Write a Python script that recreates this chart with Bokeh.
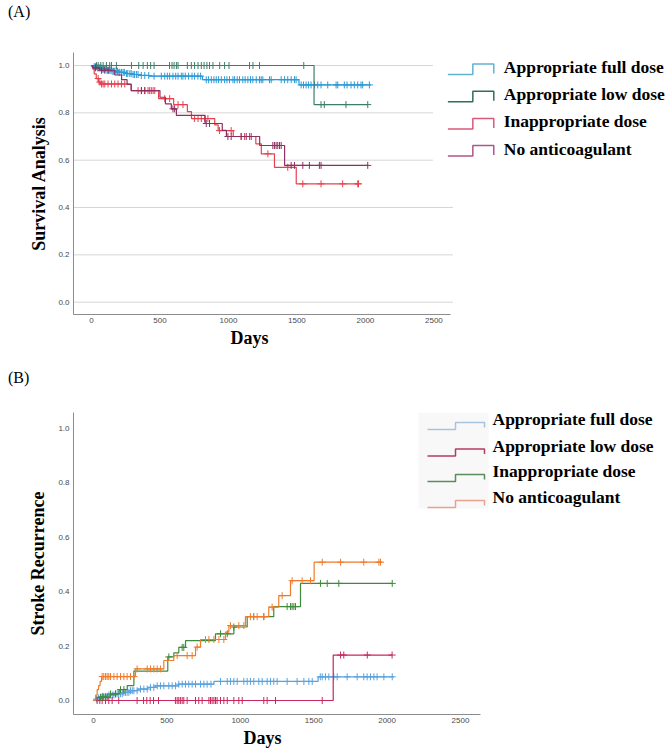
import numpy as np
from bokeh.plotting import figure
from bokeh.models import Range1d, FixedTicker, PrintfTickFormatter, Title, Div
from bokeh.layouts import column
from bokeh.core.properties import value
from bokeh.embed import file_html
from bokeh.resources import INLINE

# ---------------- data ----------------
SERIES_NAMES = ["Appropriate full dose", "Appropriate low dose", "Inappropriate dose", "No anticoagulant"]
X_TICKS = [0, 500, 1000, 1500, 2000, 2500]
Y_TICKS = [0.0, 0.2, 0.4, 0.6, 0.8, 1.0]

# Panel A : survival (step times in days, survival values)
A_full_t = [0, 15, 40, 75, 110, 150, 200, 250, 300, 360, 420, 810, 1515, 2040]
A_full_s = [1.0, 0.995, 0.99, 0.985, 0.98, 0.976, 0.971, 0.966, 0.962, 0.958, 0.955, 0.94, 0.918, 0.918]
A_full_c = [20, 28, 36, 45, 53, 60, 68, 78, 85, 90, 97, 105, 114, 125, 134, 142, 151, 160, 170, 180, 190,
            200, 207, 220, 231, 240, 255, 265, 280, 290, 304, 315, 328, 340, 364, 389, 418, 457, 510, 535,
            554, 571, 595, 615, 632, 656, 668, 685, 709, 734, 753, 777, 797, 838, 855, 875, 894, 911, 928,
            948, 972, 989, 1008, 1033, 1045, 1064, 1081, 1105, 1122, 1142, 1161, 1178, 1203, 1227, 1239,
            1251, 1300, 1312, 1385, 1409, 1433, 1458, 1482, 1494, 1531, 1548, 1567, 1584, 1603, 1628, 1652,
            1676, 1725, 1786, 1798, 1846, 1866, 1895, 1919, 1944, 1968, 1980, 2029]

A_low_t = [0, 1625, 2017]
A_low_s = [1.0, 0.835, 0.835]
A_low_c = [36, 49, 68, 85, 109, 133, 146, 182, 292, 345, 377, 408, 432, 457, 570, 588, 603, 620, 632, 700,
           729, 753, 778, 802, 822, 843, 862, 887, 936, 972, 1004, 1154, 1179, 1227, 1550, 1676, 1700,
           1858, 2017]

A_inap_t = [0, 10, 20, 35, 50, 65, 290, 490, 600, 700, 730, 900, 925, 1035, 1200, 1240, 1336, 1495, 1950]
A_inap_s = [1.0, 0.985, 0.965, 0.945, 0.93, 0.922, 0.894, 0.86, 0.835, 0.805, 0.776, 0.749, 0.725, 0.70,
            0.669, 0.627, 0.57, 0.50, 0.50]
A_inap_c = [49, 61, 73, 85, 97, 121, 146, 170, 194, 219, 243, 340, 364, 388, 413, 425, 437, 450, 462, 535,
            571, 632, 668, 753, 778, 802, 826, 850, 935, 1020, 1093, 1118, 1154, 1288, 1433, 1543, 1676,
            1834, 1944, 1950]

A_none_t = [0, 10, 60, 170, 220, 260, 290, 500, 540, 583, 620, 830, 955, 985, 1228, 1410, 2017]
A_none_s = [1.0, 0.99, 0.98, 0.96, 0.94, 0.92, 0.894, 0.866, 0.838, 0.817, 0.789, 0.755, 0.726, 0.70,
            0.662, 0.578, 0.578]
A_none_c = [30, 73, 97, 121, 365, 390, 595, 607, 838, 862, 996, 1020, 1093, 1130, 1166, 1324, 1336, 1348,
            1360, 1373, 1385, 1458, 1482, 1543, 1591, 1664, 1676, 2017]

# Panel B : stroke recurrence (cumulative)
B_full_t = [0, 10, 30, 60, 100, 150, 200, 250, 300, 370, 420, 580, 820, 1530, 2046]
B_full_v = [0, 0.005, 0.01, 0.015, 0.02, 0.025, 0.03, 0.036, 0.042, 0.048, 0.054, 0.06, 0.07, 0.087, 0.087]
B_full_c = [20, 35, 48, 60, 70, 82, 93, 105, 116, 128, 139, 150, 161, 172, 184, 196, 207, 218, 229, 241,
            252, 264, 275, 297, 320, 343, 366, 388, 411, 434, 456, 479, 513, 536, 559, 581, 604, 627, 649,
            672, 695, 729, 752, 774, 800, 865, 911, 933, 956, 979, 1024, 1047, 1069, 1092, 1126, 1149, 1183,
            1206, 1228, 1251, 1319, 1387, 1433, 1467, 1490, 1545, 1558, 1580, 1603, 1637, 1660, 1728, 1796,
            1841, 1864, 1887, 1910, 1932, 1978, 2035]

B_low_t = [0, 1633, 2034]
B_low_v = [0, 0.167, 0.167]
B_low_c = [25, 43, 59, 82, 104, 127, 172, 297, 341, 363, 386, 409, 443, 558, 570, 581, 592, 604, 615, 638,
           695, 717, 740, 786, 797, 808, 820, 831, 842, 865, 888, 911, 956, 990, 1013, 1160, 1183, 1240,
           1558, 1683, 1705, 1865, 2034]

B_inap_t = [0, 15, 115, 175, 230, 275, 506, 547, 581, 627, 831, 956, 1047, 1228, 1410, 2035]
B_inap_v = [0, 0.012, 0.024, 0.04, 0.055, 0.108, 0.16, 0.175, 0.195, 0.22, 0.245, 0.27, 0.308, 0.345,
            0.43, 0.43]
B_inap_c = [48, 59, 70, 82, 93, 116, 150, 184, 207, 513, 604, 615, 865, 911, 956, 1092, 1160, 1319, 1342,
            1353, 1365, 1376, 1546, 1592, 1671, 2035]

B_none_t = [0, 15, 25, 35, 45, 55, 286, 479, 547, 695, 729, 899, 922, 1035, 1194, 1262, 1342, 1503, 1966]
B_none_v = [0, 0.02, 0.04, 0.055, 0.07, 0.088, 0.116, 0.147, 0.165, 0.196, 0.224, 0.251, 0.275, 0.308,
            0.343, 0.385, 0.44, 0.508, 0.508]
B_none_c = [59, 70, 82, 93, 104, 116, 139, 161, 184, 207, 229, 252, 275, 297, 366, 388, 411, 434, 456, 570,
            638, 672, 706, 763, 786, 820, 854, 888, 933, 990, 1024, 1069, 1115, 1160, 1217, 1285, 1353,
            1421, 1478, 1558, 1683, 1841, 1944, 1955]

# ---------------- styles ----------------
A_COLORS = ["#2c9ad6", "#3b7f68", "#e5414f", "#8f2f62"]
A_LEG_COLORS = ["#5fb3cf", "#2e6f5c", "#d9597a", "#b0558c"]
B_COLORS = ["#5aa2de", "#c8285c", "#3e8b3a", "#f07b2b"]
B_LEG_COLORS = ["#a9c3da", "#b23c60", "#5c8c5c", "#e9a190"]
SERIF = "Liberation Serif"
SANS = "Liberation Sans"


def step_at(t, v, x):
    t = np.asarray(t, dtype=float)
    v = np.asarray(v, dtype=float)
    idx = np.searchsorted(t, np.asarray(x, dtype=float), side="right") - 1
    return v[np.clip(idx, 0, len(v) - 1)]


def style_axes(p, ylabel, axis_end, days_offset, ylab_standoff):
    p.xaxis.ticker = FixedTicker(ticks=X_TICKS)
    p.yaxis.ticker = FixedTicker(ticks=Y_TICKS)
    p.yaxis.formatter = PrintfTickFormatter(format="%.1f")
    p.xaxis.bounds = (p.x_range.start, axis_end)
    for ax in (p.xaxis[0], p.yaxis[0]):
        ax.axis_line_color = "#8c8c8c"
        ax.axis_line_width = 1
        ax.major_tick_line_color = None
        ax.minor_tick_line_color = None
        ax.major_tick_out = 0
        ax.major_tick_in = 0
        ax.minor_tick_out = 0
        ax.minor_tick_in = 0
        ax.major_label_text_font = SANS
        ax.major_label_text_font_size = "8px"
        ax.major_label_text_color = "#4a4a4a"
        ax.axis_label_text_font = SERIF
        ax.axis_label_text_font_style = "bold"
        ax.axis_label_text_font_size = "18px"
        ax.axis_label_text_color = "black"
    p.xaxis.major_label_standoff = 3
    p.yaxis.axis_label = ylabel
    p.yaxis.major_label_standoff = 4
    p.yaxis.axis_label_standoff = ylab_standoff
    p.xgrid.visible = False
    p.ygrid.visible = False
    p.outline_line_color = None
    # x axis title (placed like the reference, not centred on the whole frame)
    p.add_layout(Title(text="Days", align="left", offset=days_offset, standoff=0,
                       text_font=SERIF, text_font_style="bold", text_font_size="18px",
                       text_color="black"), "below")


def draw_series(p, ts, vs, cs, colors):
    for t, v, c, col in zip(ts, vs, cs, colors):
        p.step(x=t, y=v, mode="after", line_color=col, line_width=1.2)
        p.scatter(x=c, y=step_at(t, v, c), marker="cross", size=7, line_color=col, line_width=1)


def draw_legend(p, x_sym, sym_y, x_text, centers, text_dy, colors):
    for cy, col in zip(centers, colors):
        xs = [x_sym[0], x_sym[1], x_sym[1], x_sym[2], x_sym[2]]
        ys = [cy + sym_y[0], cy + sym_y[0], cy + sym_y[1], cy + sym_y[1], cy + sym_y[2]]
        p.line(x=xs, y=ys, line_color=col, line_width=1.5, x_range_name="px", y_range_name="px")
    p.text(x=[x_text] * len(SERIES_NAMES), y=[c + text_dy for c in centers], text=SERIES_NAMES,
           x_range_name="px", y_range_name="px",
           text_font=value(SERIF), text_font_style="bold", text_font_size="17.5px",
           text_baseline="middle", text_color="black")


def panel_label(text):
    return Div(text=text, width=669, height=24,
               styles={"font-family": SERIF, "font-size": "16px", "line-height": "24px",
                       "padding-left": "8px", "color": "black", "margin": "0"})


# ---------------- Panel A ----------------
A_SCALE = 0.1372     # px per day
A_X0 = -18 / A_SCALE
A_X1 = (669 - 90) / A_SCALE
pa = figure(width=669, height=342, output_backend="svg", toolbar_location=None,
            x_range=Range1d(A_X0, A_X1), y_range=Range1d(-0.052, 1.055),
            min_border_left=72, min_border_right=0, min_border_top=28, min_border_bottom=52)
pa.extra_x_ranges = {"px": Range1d(72, 669)}
pa.extra_y_ranges = {"px": Range1d(314, 52)}
style_axes(pa, "Survival Analysis", (450 - 90) / A_SCALE, 157, 6)

# grid lines ending under the legend
pa.segment(x0=[A_X0] * len(Y_TICKS), x1=[(452 - 90) / A_SCALE] * len(Y_TICKS),
           y0=Y_TICKS, y1=Y_TICKS, line_color="#d6d6d6", line_width=1)
pa.quad(left=[432], right=[669], top=[52], bottom=[163], fill_color="white", line_color=None,
        x_range_name="px", y_range_name="px")

draw_series(pa, [A_full_t, A_low_t, A_inap_t, A_none_t], [A_full_s, A_low_s, A_inap_s, A_none_s],
            [A_full_c, A_low_c, A_inap_c, A_none_c], A_COLORS)
draw_legend(pa, (447, 472, 493), (5.5, -5, 4.5), 503, [68.5, 95.7, 122.9, 150.1], -2, A_LEG_COLORS)

# ---------------- Panel B ----------------
B_SCALE = 0.1468
B_X0 = -20 / B_SCALE
B_X1 = (669 - 93) / B_SCALE
pb = figure(width=669, height=359, output_backend="svg", toolbar_location=None,
            x_range=Range1d(B_X0, B_X1), y_range=Range1d(-0.0514, 1.0577),
            min_border_left=73, min_border_right=0, min_border_top=22, min_border_bottom=35)
pb.extra_x_ranges = {"px": Range1d(73, 669)}
pb.extra_y_ranges = {"px": Range1d(714, 412)}
style_axes(pb, "Stroke Recurrence", (480 - 93) / B_SCALE, 170, 7)

pb.quad(left=[418], right=[488], top=[412], bottom=[508], fill_color="#f8f8f8", line_color=None,
        x_range_name="px", y_range_name="px")
draw_series(pb, [B_full_t, B_low_t, B_inap_t, B_none_t], [B_full_v, B_low_v, B_inap_v, B_none_v],
            [B_full_c, B_low_c, B_inap_c, B_none_c], B_COLORS)
draw_legend(pb, (427, 455, 484), (8.5, 1.5, 6.5), 492, [420.5, 447, 472.5, 498.5], -2, B_LEG_COLORS)

layout = column(panel_label("(A)"), pa, panel_label("(B)"), pb, spacing=0)
open("out.html", "w").write(file_html(layout, INLINE))
